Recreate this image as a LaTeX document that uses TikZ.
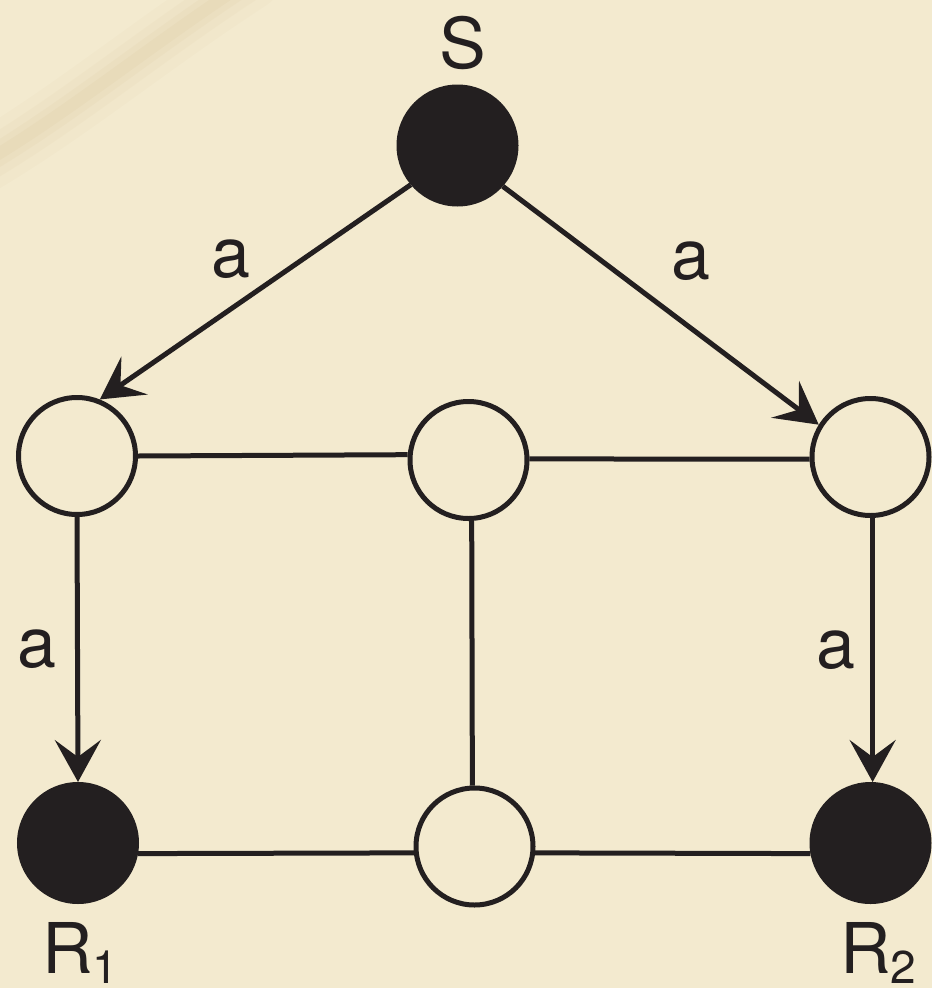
\documentclass[tikz,border=0pt]{standalone}
\usepackage{fontspec}
\setmainfont{TeX Gyre Heros}
\usepackage{tikz}
\usetikzlibrary{arrows.meta,positioning}
\definecolor{parch}{RGB}{243,234,207}
\definecolor{ink}{RGB}{35,31,32}
\definecolor{streak}{RGB}{200,168,110}

\begin{document}
\begin{tikzpicture}[x=1pt,y=-1pt,color=ink,
  every path/.style={line width=5pt},
  site/.style={circle,draw=ink,line width=5pt,minimum size=117pt,inner sep=0pt},
  term/.style={site,fill=ink},
  arr/.style={-{Stealth[length=42pt,width=46pt,inset=17pt]}},
  lbl/.style={inner sep=0pt,font=\fontsize{70}{84}\selectfont,text=ink}]
% paper
\useasboundingbox (0,0) rectangle (932,988);
\fill[parch] (0,0) rectangle (932,988);
\foreach \w/\o in {60/0.04,40/0.05,24/0.06,12/0.07}
  \draw[streak,opacity=\o,line width=\w pt,line cap=round] (-20,165) .. controls (70,112) and (150,45) .. (250,-20);
% sites
\node[term] (S) at (457.5,145.5) {};
\node[site] (U1) at (77,456) {};
\node[site] (U2) at (468.5,460) {};
\node[site] (U3) at (870.5,457) {};
\node[term] (R1) at (78,843) {};
\node[site] (V) at (474.5,846.5) {};
\node[term] (R2) at (870.5,843) {};
% names
\node[lbl] (Slbl) at (462.5,43) {S};
\node[lbl,anchor=base west] (R1lbl) at (39.5,973) {R\raisebox{-10pt}{\fontsize{46}{46}\selectfont 1}};
\node[lbl,anchor=base west] (R2lbl) at (837.5,973) {R\raisebox{-10pt}{\fontsize{46}{46}\selectfont 2}};
% arrows
\draw[arr] (S.220) -- node[lbl,above left=11pt and 2.5pt] {a} (U1.68);
\draw[arr] (S.-42) -- node[lbl,above right=22pt and 8pt] {a} (U3.148);
\draw[arr] (U1.south) -- node[lbl,left=19pt] {a} (R1.north);
\draw[arr] (U3.-88) -- node[lbl,left=15pt] {a} (R2.88);
% links
\draw (U1.0) -- (U2.175);
\draw (U2.1) -- (U3.182);
\draw (U2.-87) -- (V.92);
\draw (R1.-10) -- (V.186);
\draw (V.-6) -- (R2.190);
\end{tikzpicture}
\end{document}
